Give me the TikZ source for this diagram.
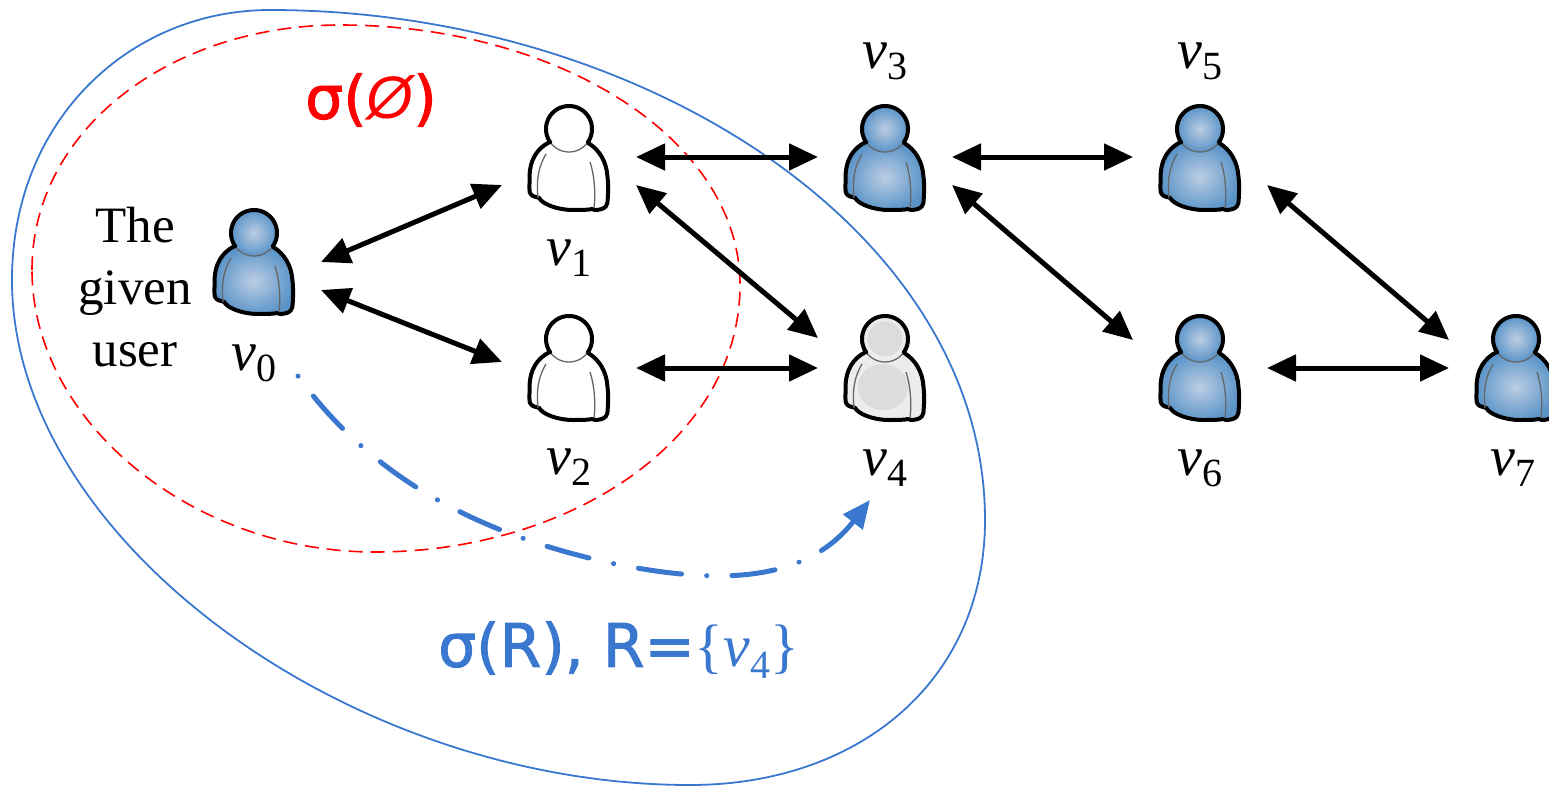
\documentclass[tikz,border=0pt]{standalone}
\usepackage{fontspec}
\setmainfont{Liberation Serif}
\newfontfamily\handfont[FakeBold=1.6]{DejaVu Sans}
\newfontfamily\slashfont{Liberation Sans}
\usetikzlibrary{arrows.meta,calc}
\definecolor{netblue}{HTML}{3A78CF}
\definecolor{bodylight}{HTML}{BCCDE3}
\definecolor{bodydark}{HTML}{5A94C8}
\definecolor{greyfill}{HTML}{ECECEC}
\definecolor{greyblob}{HTML}{DCDCDC}
\newcommand{\vsym}[1]{\textit{v}\raisebox{-0.2em}{\fontsize{40bp}{40bp}\selectfont #1}}
\newcommand{\personbody}[1]{%
  \path[#1,xscale=0.96,draw=black,line width=4bp,line join=round,line cap=round] (-20,-16) .. controls (-33,-10) and (-41,2) .. (-41,18)
      .. controls (-41,28) and (-42,34) .. (-40,36)
      .. controls (-38,39) and (-33,39) .. (-31,40)
      .. controls (-28,46) and (-12,52) .. (4,52)
      .. controls (12,52) and (20,52) .. (24,51)
      .. controls (30,54) and (40,50) .. (40,45)
      .. controls (41,34) and (41,26) .. (40,18)
      .. controls (39,4) and (32,-8) .. (20,-15);
}
\newcommand{\personlines}{%
  \draw[personline] (-23,-4) .. controls (-30,8) and (-33,20) .. (-31,40);
  \draw[personline] (21,4) .. controls (25,16) and (27,34) .. (25,50);
  \draw[personline] plot[domain=35:145,samples=20] ({23*cos(\x)},{-29+23*sin(\x)});
  \draw[black,line width=4bp,line cap=round] plot[domain=-215:35,samples=50] ({23*cos(\x)},{-29+23*sin(\x)});
}
% #1 = node name, #2 = fill style
\newcommand{\drawperson}[2]{%
  \begin{scope}[shift={(#1.center)}]
    \personbody{#2}
    \path[#2] (0,-29) circle[radius=23];
    \personlines
  \end{scope}
}
\newcommand{\drawgreyperson}[1]{%
  \begin{scope}[shift={(#1.center)}]
    \personbody{greyfilled}
    \path[greyfilled] (0,-29) circle[radius=23];
    \fill[greyblob] (0,-29) circle[radius=17.5];
    \fill[greyblob] (-2,19) ellipse[x radius=25,y radius=23];
    \personlines
  \end{scope}
}
\tikzset{
  personbox/.style={minimum width=134bp,minimum height=110bp,inner sep=0pt,outer sep=0pt},
  personline/.style={black!60,line width=1.3bp},
  biarrow/.style={line width=5bp,{Triangle[length=29bp,width=26bp]}-{Triangle[length=29bp,width=26bp]}},
  vlabel/.style={inner sep=0pt,font=\fontsize{56bp}{60bp}\selectfont},
  plainlabel/.style={inner sep=0pt,align=center,font=\fontsize{51bp}{62bp}\selectfont},
  handlabel/.style={inner sep=0pt,font=\fontsize{60bp}{66bp}\handfont},
  bluefill/.style={shading=radial,inner color=bodylight,outer color=bodydark},
  whitefill/.style={fill=white},
  greyfilled/.style={fill=greyfill}
}
\begin{document}
\begin{tikzpicture}[x=1bp,y=-1bp]
\useasboundingbox (0,0) rectangle (1549,786);
% regions
\draw[netblue,line width=1.8bp] (12,280) .. controls (12,120) and (130,10) .. (270,10)
  .. controls (640,10) and (985,230) .. (985,520)
  .. controls (985,680) and (860,785) .. (690,785)
  .. controls (350,785) and (12,540) .. (12,280) -- cycle;
\draw[red,line width=1.6bp,dash pattern=on 14bp off 8bp] (32,270) .. controls (32,130) and (170,25) .. (340,25)
  .. controls (560,25) and (740,140) .. (740,285)
  .. controls (740,440) and (570,552) .. (375,552)
  .. controls (190,552) and (32,420) .. (32,270) -- cycle;
% persons
\node[personbox] (p0) at (254,262) {};
\node[personbox] (p1) at (569,158) {};
\node[personbox] (p2) at (569,368) {};
\node[personbox] (p3) at (885,158) {};
\node[personbox] (p4) at (885,368) {};
\node[personbox] (p5) at (1200,158) {};
\node[personbox] (p6) at (1200,368) {};
\node[personbox] (p7) at (1516,368) {};
\drawperson{p0}{bluefill}
\drawperson{p1}{whitefill}
\drawperson{p2}{whitefill}
\drawperson{p3}{bluefill}
\drawgreyperson{p4}
\drawperson{p5}{bluefill}
\drawperson{p6}{bluefill}
\drawperson{p7}{bluefill}
% connectors
\draw[biarrow] ([yshift=0bp]p0.east) -- ([yshift=-27bp]p1.west);
\draw[biarrow] ([yshift=-28bp]p0.east) -- ([yshift=6bp]p2.west);
\draw[biarrow] ([yshift=1bp]p1.east) -- ([yshift=1bp]p3.west);
\draw[biarrow] ([yshift=-27bp]p1.east) -- ([yshift=30bp]p4.west);
\draw[biarrow] (p2.east) -- (p4.west);
\draw[biarrow] ([yshift=1bp]p3.east) -- ([yshift=1bp]p5.west);
\draw[biarrow] ([yshift=-27bp]p3.east) -- ([yshift=28bp]p6.west);
\draw[biarrow] ([yshift=-27bp]p5.east) -- ([yshift=28bp]p7.west);
\draw[biarrow] (p6.east) -- (p7.west);
% dash-dot curve
\coordinate (dashstart) at (298,376);
\coordinate (dashend) at (870,500);
\draw[netblue,line width=5bp,line cap=round,dash pattern=on 0.1bp off 25.2bp on 43.5bp off 25.2bp,-{Triangle[length=28bp,width=24bp]}]
  (dashstart) .. controls (380,490) and (500,540) .. (620,565) .. controls (700,580) and (800,590) .. (dashend);
% labels
\node[plainlabel] (given) at (135,287) {The\\given\\user};
\node[vlabel] (l0) at (254,363) {\vsym{0}};
\node[vlabel] (l1) at (569,258) {\vsym{1}};
\node[vlabel] (l2) at (569,467) {\vsym{2}};
\node[vlabel] (l3) at (885,61) {\vsym{3}};
\node[vlabel] (l4) at (885,468) {\vsym{4}};
\node[vlabel] (l5) at (1200,61) {\vsym{5}};
\node[vlabel] (l6) at (1200,468) {\vsym{6}};
\node[vlabel] (l7) at (1513,468) {\vsym{7}};
\node[handlabel,text=red] (sigempty) at (371,100) {σ({\slashfont\itshape Ø})};
\node[handlabel,text=netblue,anchor=west] (sigr) at (438,650) {σ(R), R={\rmfamily\fontsize{60bp}{60bp}\selectfont\{\vsym{4}\}}};
\end{tikzpicture}
\end{document}
